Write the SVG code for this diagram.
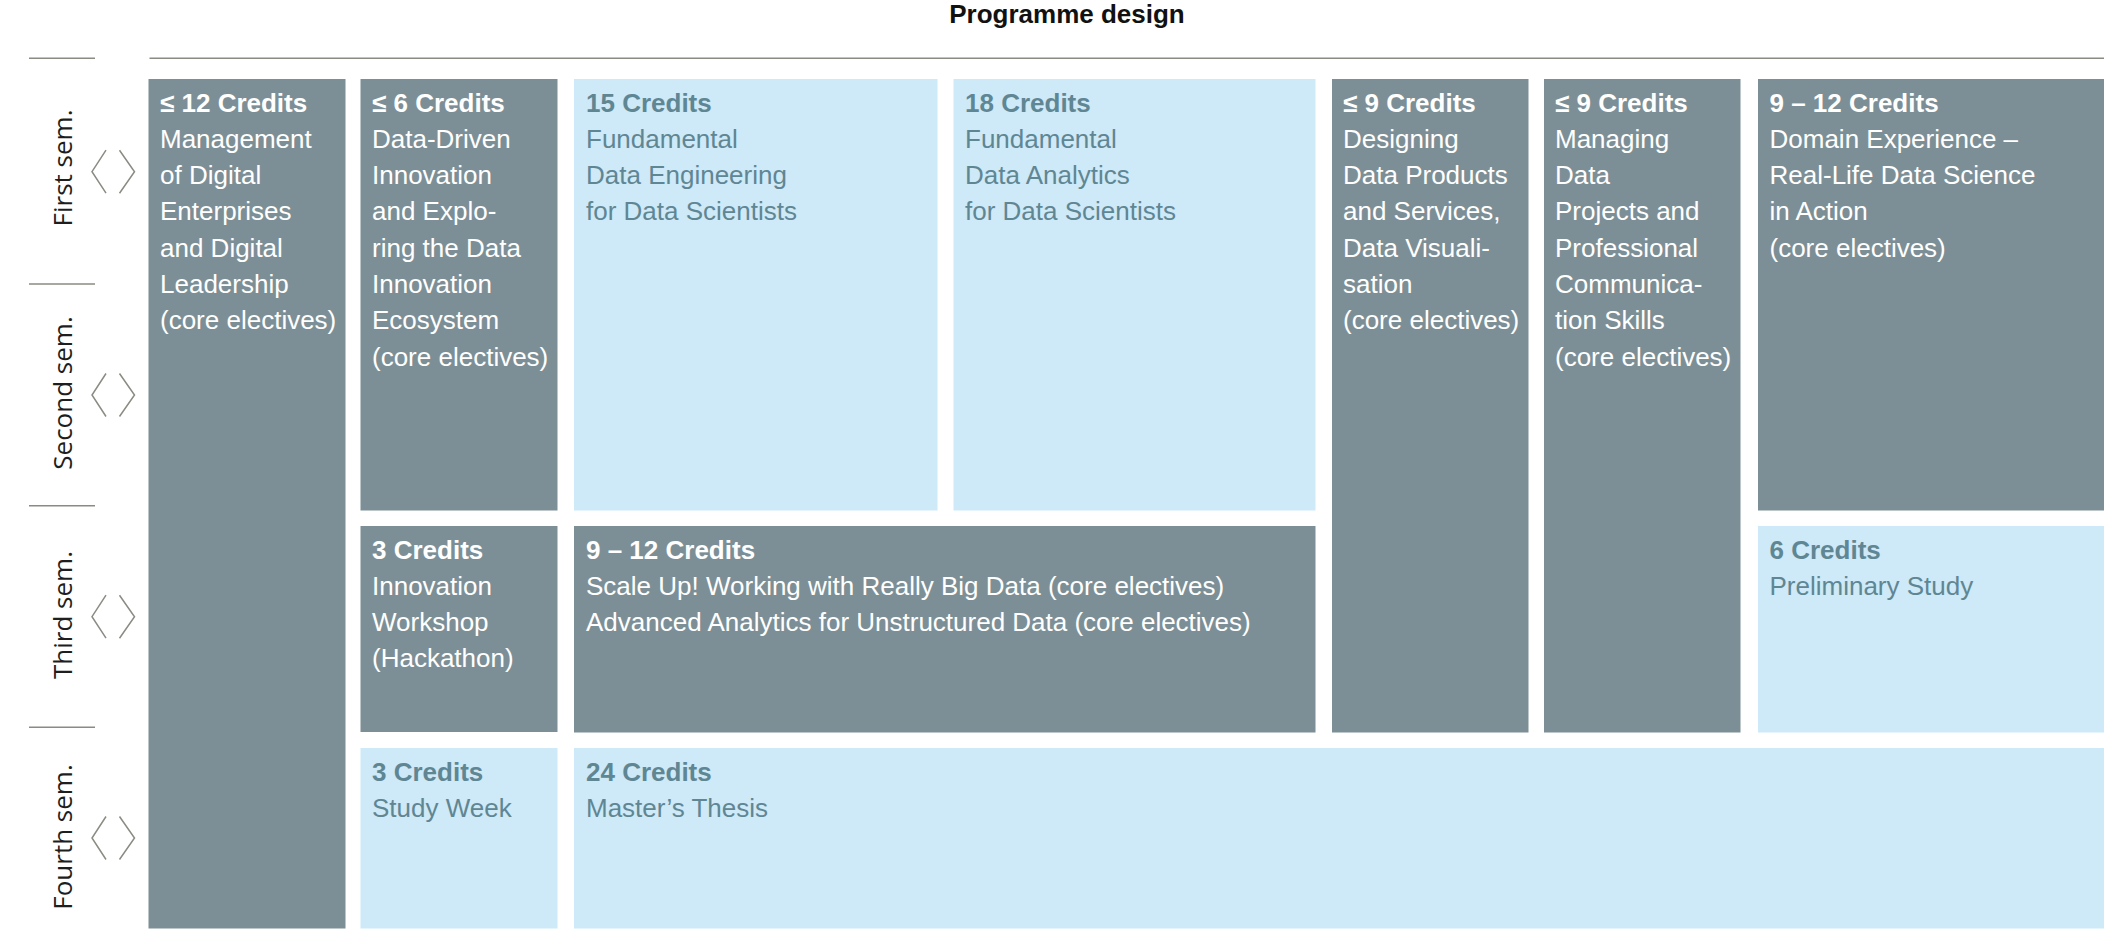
<svg xmlns="http://www.w3.org/2000/svg" width="2104" height="945" viewBox="0 0 2104 945">
<style>
.dk{fill:#7d8f96}
.lt{fill:#cee9f7}
.t{font-family:"Liberation Sans",Arial,sans-serif;font-size:26px}
.w{fill:#ffffff}
.l{fill:#5f8693}
.h{font-weight:bold}
.rule{stroke:#8a8b82;stroke-width:1.6;fill:none}
.chev{stroke:#8a8b82;stroke-width:1.5;fill:none}
.sem{font-family:"Open Sans","DejaVu Sans",sans-serif;font-size:26px;fill:#1e1e1e}
.title{font-family:"Liberation Sans",Arial,sans-serif;font-size:26px;font-weight:bold;fill:#111}
</style>
<defs>
<g id="chevs">
<polyline class="chev" points="106,-21.5 92,0 106,21.5"/>
<polyline class="chev" points="119.5,-21.5 134.5,0 119.5,21.5"/>
</g>
</defs>
<rect width="2104" height="945" fill="#ffffff"/>
<text class="title" x="1067" y="23" text-anchor="middle">Programme design</text>

<g id="axis">
<line class="rule" x1="149.5" y1="58.3" x2="2104" y2="58.3"/>
<line class="rule" x1="29" y1="58.3" x2="95" y2="58.3"/>
<line class="rule" x1="29" y1="284" x2="95" y2="284"/>
<line class="rule" x1="29" y1="505.7" x2="95" y2="505.7"/>
<line class="rule" x1="29" y1="727.3" x2="95" y2="727.3"/>
<use href="#chevs" transform="translate(0,171.7)"/>
<use href="#chevs" transform="translate(0,395)"/>
<use href="#chevs" transform="translate(0,616.7)"/>
<use href="#chevs" transform="translate(0,838)"/>
<text class="sem" transform="translate(72,168) rotate(-90)" text-anchor="middle">First sem.</text>
<text class="sem" transform="translate(72,393) rotate(-90)" text-anchor="middle">Second sem.</text>
<text class="sem" transform="translate(72,615) rotate(-90)" text-anchor="middle">Third sem.</text>
<text class="sem" transform="translate(72,837) rotate(-90)" text-anchor="middle">Fourth sem.</text>
</g>

<g id="connectors"></g>

<g id="n-mgmt">
<rect class="dk" x="148.5" y="79" width="197" height="849.5"/>
<text class="t w" y="111.5"><tspan class="h" x="160">≤ 12 Credits</tspan><tspan x="160" dy="36.3">Management</tspan><tspan x="160" dy="36.3">of Digital</tspan><tspan x="160" dy="36.3">Enterprises</tspan><tspan x="160" dy="36.3">and Digital</tspan><tspan x="160" dy="36.3">Leadership</tspan><tspan x="160" dy="36.3">(core electives)</tspan></text>
</g>

<g id="n-ddi">
<rect class="dk" x="360.5" y="79" width="197" height="431.5"/>
<text class="t w" y="111.5"><tspan class="h" x="372">≤ 6 Credits</tspan><tspan x="372" dy="36.3">Data-Driven</tspan><tspan x="372" dy="36.3">Innovation</tspan><tspan x="372" dy="36.3">and Explo-</tspan><tspan x="372" dy="36.3">ring the Data</tspan><tspan x="372" dy="36.3">Innovation</tspan><tspan x="372" dy="36.3">Ecosystem</tspan><tspan x="372" dy="36.3">(core electives)</tspan></text>
</g>

<g id="n-fde">
<rect class="lt" x="574" y="79" width="363.5" height="431.5"/>
<text class="t l" y="111.5"><tspan class="h" x="586">15 Credits</tspan><tspan x="586" dy="36.3">Fundamental</tspan><tspan x="586" dy="36.3">Data Engineering</tspan><tspan x="586" dy="36.3">for Data Scientists</tspan></text>
</g>

<g id="n-fda">
<rect class="lt" x="953.5" y="79" width="362" height="431.5"/>
<text class="t l" y="111.5"><tspan class="h" x="965">18 Credits</tspan><tspan x="965" dy="36.3">Fundamental</tspan><tspan x="965" dy="36.3">Data Analytics</tspan><tspan x="965" dy="36.3">for Data Scientists</tspan></text>
</g>

<g id="n-design">
<rect class="dk" x="1332" y="79" width="196.5" height="653.5"/>
<text class="t w" y="111.5"><tspan class="h" x="1343">≤ 9 Credits</tspan><tspan x="1343" dy="36.3">Designing</tspan><tspan x="1343" dy="36.3">Data Products</tspan><tspan x="1343" dy="36.3">and Services,</tspan><tspan x="1343" dy="36.3">Data Visuali-</tspan><tspan x="1343" dy="36.3">sation</tspan><tspan x="1343" dy="36.3">(core electives)</tspan></text>
</g>

<g id="n-manage">
<rect class="dk" x="1544" y="79" width="196.5" height="653.5"/>
<text class="t w" y="111.5"><tspan class="h" x="1555">≤ 9 Credits</tspan><tspan x="1555" dy="36.3">Managing</tspan><tspan x="1555" dy="36.3">Data</tspan><tspan x="1555" dy="36.3">Projects and</tspan><tspan x="1555" dy="36.3">Professional</tspan><tspan x="1555" dy="36.3">Communica-</tspan><tspan x="1555" dy="36.3">tion Skills</tspan><tspan x="1555" dy="36.3">(core electives)</tspan></text>
</g>

<g id="n-domain">
<rect class="dk" x="1758" y="79" width="346" height="431.5"/>
<text class="t w" y="111.5"><tspan class="h" x="1769.5">9 – 12 Credits</tspan><tspan x="1769.5" dy="36.3">Domain Experience –</tspan><tspan x="1769.5" dy="36.3">Real-Life Data Science</tspan><tspan x="1769.5" dy="36.3">in Action</tspan><tspan x="1769.5" dy="36.3">(core electives)</tspan></text>
</g>

<g id="n-workshop">
<rect class="dk" x="360.5" y="526" width="197" height="206"/>
<text class="t w" y="558.5"><tspan class="h" x="372">3 Credits</tspan><tspan x="372" dy="36.3">Innovation</tspan><tspan x="372" dy="36.3">Workshop</tspan><tspan x="372" dy="36.3">(Hackathon)</tspan></text>
</g>

<g id="n-scale">
<rect class="dk" x="574" y="526" width="741.5" height="206.5"/>
<text class="t w" y="558.5"><tspan class="h" x="586">9 – 12 Credits</tspan><tspan x="586" dy="36.3">Scale Up! Working with Really Big Data (core electives)</tspan><tspan x="586" dy="36.3">Advanced Analytics for Unstructured Data (core electives)</tspan></text>
</g>

<g id="n-prelim">
<rect class="lt" x="1758" y="526" width="346" height="206.5"/>
<text class="t l" y="558.5"><tspan class="h" x="1769.5">6 Credits</tspan><tspan x="1769.5" dy="36.3">Preliminary Study</tspan></text>
</g>

<g id="n-studyweek">
<rect class="lt" x="360.5" y="748" width="197" height="180.5"/>
<text class="t l" y="780.5"><tspan class="h" x="372">3 Credits</tspan><tspan x="372" dy="36.3">Study Week</tspan></text>
</g>

<g id="n-thesis">
<rect class="lt" x="574" y="748" width="1530" height="180.5"/>
<text class="t l" y="780.5"><tspan class="h" x="586">24 Credits</tspan><tspan x="586" dy="36.3">Master’s Thesis</tspan></text>
</g>
</svg>
